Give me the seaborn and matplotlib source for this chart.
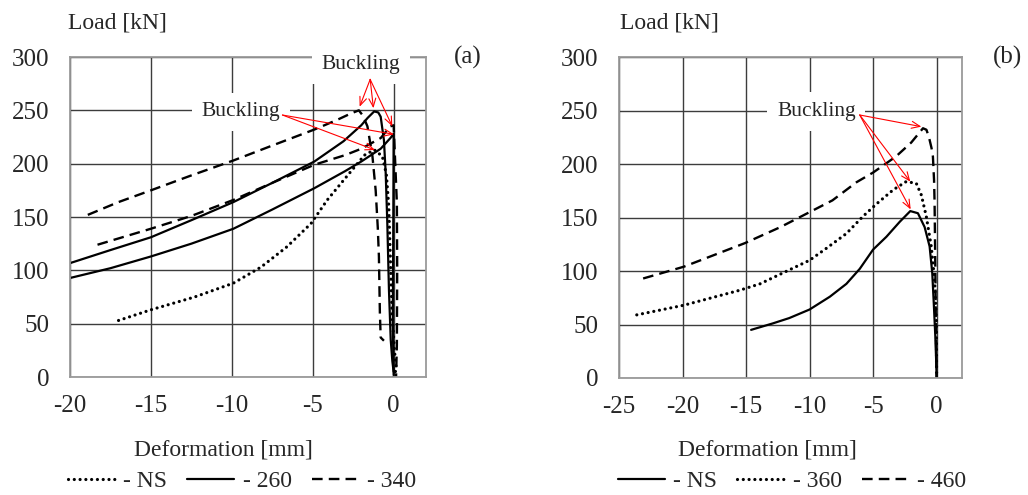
import matplotlib
matplotlib.use("Agg")
import matplotlib.pyplot as plt
import seaborn as sns

# panel (a) curves
ns_a_x = [-17, -15, -12.3, -9.9, -8.2, -6.6, -5.1, -4.1, -2.9, -1.8, -1.2, -0.7, -0.45, -0.3, -0.2, -0.1, 0.05, 0.15, 0.1, 0.0]
ns_a_y = [53, 63, 75, 88, 103, 122, 144, 166, 188, 208, 213, 207, 190, 160, 110, 60, 25, 10, 4, 0]

s260_up_x = [-19.95, -17.5, -15, -12.5, -9.9, -7.5, -4.9, -3.1, -2.0, -1.6, -1.2, -0.95, -0.8, -0.6, -0.49, -0.39, -0.29, -0.18, -0.08, 0.0]
s260_up_y = [107, 119, 131, 147, 164, 182, 202, 221, 236, 243, 249, 248, 244, 222, 191, 144, 82, 35, 15, 5]
s260_lo_x = [-19.95, -17.5, -15, -12.5, -9.9, -7.5, -4.9, -3, -2.0, -0.8, -0.2, 0.0, -0.02, -0.05, 0.0]
s260_lo_y = [93, 102, 113, 125, 139, 157, 177, 193, 202, 214, 224, 228, 150, 50, 2]

d340_up_x = [-18.9, -17, -15, -12.5, -9.9, -7.5, -4.9, -3.5, -2.65, -2.15, -1.9, -1.62, -1.31, -1.11, -0.98, -0.91, -0.85, -0.8, -0.6]
d340_up_y = [152, 164, 175, 189, 203, 217, 232, 241, 247, 250, 245, 235, 207, 175, 140, 113, 60, 37, 34]
d340_lo_x = [-18.3, -15, -12.5, -9.9, -7.5, -4.9, -3, -2.0, -0.8, -0.2, 0.0, 0.1, 0.2, 0.22, 0.2, 0.15]
d340_lo_y = [124, 139, 151, 166, 182, 199, 208, 214, 224, 235, 236, 200, 163, 100, 30, 0]

# panel (b) curves
ns_b_x = [-14.6, -12.9, -11.6, -10.0, -8.4, -7.1, -6.05, -5.0, -3.95, -2.9, -2.07, -1.47, -0.94, -0.55, -0.34, -0.21, -0.1, -0.03, 0.0]
ns_b_y = [45, 51, 56, 64, 76, 88, 102, 120, 132, 146, 156, 154, 141, 123, 98, 67, 39, 15, 0]
d360_x = [-23.6, -19.9, -15.5, -13.9, -11.6, -10.0, -8.7, -7.1, -5.8, -4.7, -3.4, -2.4, -1.6, -1.2, -0.81, -0.42, -0.16, -0.02, 0.0]
d360_y = [59, 68, 82, 88, 101, 110, 121, 135, 151, 163, 176, 183.5, 182, 171, 151, 123, 92, 54, 0]
d460_x = [-23.1, -19.9, -15.1, -12.3, -10.0, -8.2, -6.3, -5.0, -3.2, -2.0, -1.07, -0.8, -0.6, -0.4, -0.29, -0.2, -0.16, -0.1, -0.05, 0.0]
d460_y = [93, 104, 126, 141, 155, 166, 183, 192, 207, 220, 233.4, 232, 225, 215, 207, 185, 165, 103, 40, 0]

y_ticks = [0, 50, 100, 150, 200, 250, 300]
x_ticks_a = [-20, -15, -10, -5, 0]
x_ticks_b = [-25, -20, -15, -10, -5, 0]

sns.set_style("white")
plt.rcParams["font.family"] = ["Liberation Serif", "DejaVu Serif"]

DOT = dict(color="black", lw=2.3, linestyle=(0, (0.01, 1.8)), dash_capstyle="round")
SOLID = dict(color="black", lw=1.6, linestyle="-")
DASH = dict(color="black", lw=1.7, linestyle=(0, (4.5, 2.6)))

fig = plt.figure(figsize=(10.28, 4.95), dpi=100)
ax_a = fig.add_axes([70 / 1028, 1 - 377 / 495, 356 / 1028, 320 / 495])
ax_b = fig.add_axes([619 / 1028, 1 - 378 / 495, 343 / 1028, 321 / 495])


def line(ax, x, y, style, label):
    sns.lineplot(x=x, y=y, ax=ax, sort=False, estimator=None, label=label, **style)


line(ax_a, ns_a_x, ns_a_y, DOT, "- NS")
line(ax_a, s260_up_x, s260_up_y, SOLID, "- 260")
line(ax_a, s260_lo_x, s260_lo_y, SOLID, "_nolegend_")
line(ax_a, d340_up_x, d340_up_y, DASH, "- 340")
line(ax_a, d340_lo_x, d340_lo_y, DASH, "_nolegend_")

line(ax_b, ns_b_x, ns_b_y, SOLID, "- NS")
line(ax_b, d360_x, d360_y, DOT, "- 360")
line(ax_b, d460_x, d460_y, DASH, "- 460")

for ax, xt, xlim in [(ax_a, x_ticks_a, (-20, 2)), (ax_b, x_ticks_b, (-25, 2))]:
    ax.set_xlim(*xlim)
    ax.set_ylim(0, 300)
    ax.set_xticks(xt)
    ax.set_yticks(y_ticks)
    ax.set_xticklabels([str(v) for v in xt])
    ax.grid(True, color="#3c3c3c", lw=1.0)
    ax.set_axisbelow(True)
    for sp in ax.spines.values():
        sp.set_color("#9a9a9a")
        sp.set_linewidth(1.3)
    ax.tick_params(axis="x", length=0, pad=13, labelsize=18)
    ax.tick_params(axis="y", length=0, pad=15, labelsize=18)
    ax.set_xlabel("")
    ax.set_ylabel("")

box = dict(fc="white", ec="none", pad=7)
arr = dict(arrowstyle="->,head_length=0.6,head_width=0.25", color="red", lw=0.8,
           shrinkA=0, shrinkB=0)


def buckling(ax, pos, src, targets):
    ax.text(pos[0], pos[1], "Buckling", ha="center", va="center", fontsize=15.5,
            bbox=box, zorder=5, clip_on=False)
    for t in targets:
        ax.annotate("", xy=t, xytext=src, arrowprops=arr, zorder=6)


buckling(ax_a, (-2.04, 292.5), (-1.45, 279), [(-2.1, 253.4), (-1.25, 252), (-0.08, 235)])
buckling(ax_a, (-9.44, 248.7), (-6.87, 245.6), [(-1.15, 212.8), (0.02, 227.5)])
buckling(ax_b, (-9.46, 248.9), (-6.05, 245.8), [(-1.2, 234.9), (-2.07, 183.5), (-2.04, 157.6)])

fig.text(68 / 1028, 1 - 23 / 495, "Load [kN]", fontsize=17, ha="left", va="center")
fig.text(620 / 1028, 1 - 23 / 495, "Load [kN]", fontsize=17, ha="left", va="center")
fig.text(468 / 1028, 1 - 57 / 495, "(a)", fontsize=18, ha="center", va="center")
fig.text(1008 / 1028, 1 - 57 / 495, "(b)", fontsize=18, ha="center", va="center")
fig.text(223 / 1028, 1 - 450 / 495, "Deformation [mm]", fontsize=17, ha="center", va="center")
fig.text(767 / 1028, 1 - 450 / 495, "Deformation [mm]", fontsize=17, ha="center", va="center")

for ax, cx in [(ax_a, 242 / 1028), (ax_b, 792 / 1028)]:
    ax.legend(loc="center", bbox_to_anchor=(cx, 1 - 481 / 495), bbox_transform=fig.transFigure,
              ncol=3, frameon=False, fontsize=17, handlelength=2.0, handletextpad=0.35,
              columnspacing=0.85, borderpad=0)

fig.savefig("out.png", dpi=100)
